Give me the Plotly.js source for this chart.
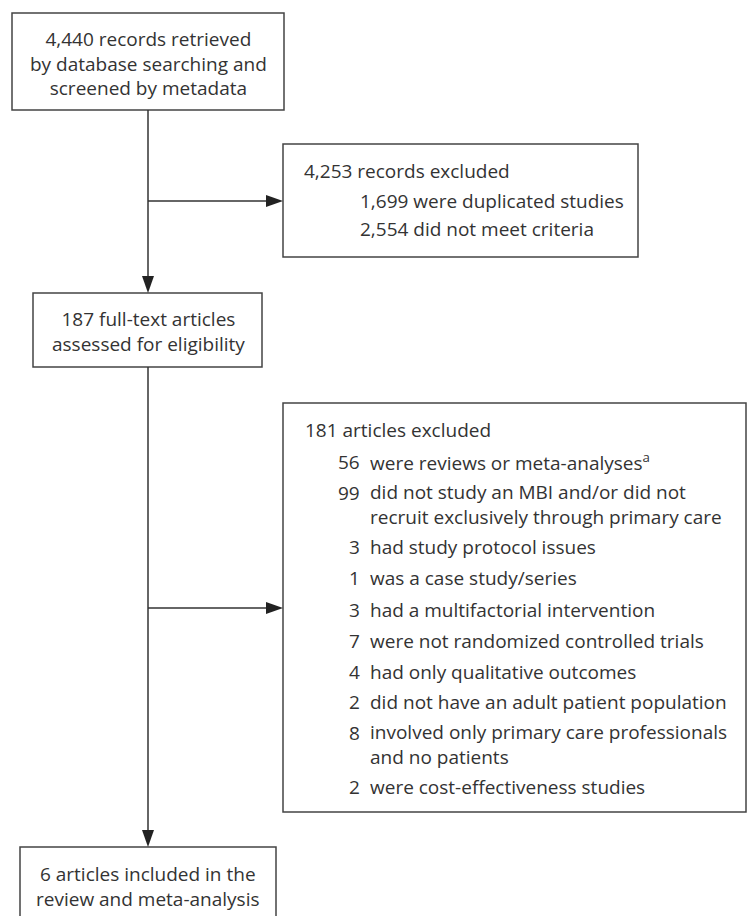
<!DOCTYPE html>
<html>
<head>
<meta charset="utf-8">
<script src="https://cdn.plot.ly/plotly-3.0.1.min.js"></script>
<style>html,body{margin:0;padding:0;background:#fff;}#chart{width:751px;height:916px;}</style>
</head>
<body>
<div id="chart"></div>
<script>
// ---- data (text and counts) ----
const retrievedLines = ["4,440 records retrieved", "by database searching and", "screened by metadata"];
const screenExcludedTotal = "4,253 records excluded";
const screenExcludedCounts = ["1,699", "2,554"];
const screenExcludedReasons = ["were duplicated studies", "did not meet criteria"];
const fullTextLines = ["187 full-text articles", "assessed for eligibility"];
const fullTextExcludedTotal = "181 articles excluded";
const fullTextExcludedCounts = ["56", "99", "3", "1", "3", "7", "4", "2", "8", "2"];
const fullTextExcludedReasons = [
  ["were reviews or meta-analyses<sup>a</sup>"],
  ["did not study an MBI and/or did not", "recruit exclusively through primary care"],
  ["had study protocol issues"],
  ["was a case study/series"],
  ["had a multifactorial intervention"],
  ["were not randomized controlled trials"],
  ["had only qualitative outcomes"],
  ["did not have an adult patient population"],
  ["involved only primary care professionals", "and no patients"],
  ["were cost-effectiveness studies"]
];
const includedLines = ["6 articles included in the", "review and meta-analysis"];

// ---- layout geometry ----
const W = 751, H = 916;
const FONT = {family: "Open Sans, Noto Sans, sans-serif", size: 19, color: "#333333"};
const LINE = {color: "#333333", width: 1.5};
const BOX = {color: "#444444", width: 1.5};
const mainX = 148;
const boxes = {
  b1: [12, 284, 13, 110],
  b2: [283, 638, 144, 257],
  b3: [33, 262, 293, 367],
  b4: [283, 746, 403, 812],
  b5: [20, 276, 847, 935]
};
const branch1Y = 201, branch2Y = 608;
const lineGap = 23;

const shapes = [];
const annotations = [];

function box(b) {
  shapes.push({type: "rect", xref: "x", yref: "y", x0: b[0], x1: b[1], y0: b[2], y1: b[3],
    line: BOX, fillcolor: "rgba(0,0,0,0)"});
}
function seg(x0, y0, x1, y1) {
  shapes.push({type: "line", xref: "x", yref: "y", x0, y0, x1, y1, line: LINE});
}
function headRight(x, y) {
  shapes.push({type: "path", xref: "x", yref: "y",
    path: `M ${x} ${y} L ${x - 17} ${y - 6} L ${x - 17} ${y + 6} Z`,
    fillcolor: "#222", line: {width: 0}});
}
function headDown(x, y) {
  shapes.push({type: "path", xref: "x", yref: "y",
    path: `M ${x} ${y} L ${x - 6} ${y - 17} L ${x + 6} ${y - 17} Z`,
    fillcolor: "#222", line: {width: 0}});
}
// multi-line block: firstY is the centre of the first line
function block(lines, x, firstY, anchor) {
  const cy = firstY + (lines.length - 1) * lineGap / 2;
  annotations.push({text: lines.join("<br>"), x, y: cy, xref: "x", yref: "y",
    xanchor: anchor || "center", yanchor: "middle", showarrow: false,
    font: FONT, align: anchor || "center"});
}

Object.values(boxes).forEach(box);

// connectors
seg(mainX, boxes.b1[3], mainX, boxes.b3[2] - 10);
seg(mainX, branch1Y, boxes.b2[0] - 10, branch1Y);
headRight(boxes.b2[0], branch1Y);
headDown(mainX, boxes.b3[2]);
seg(mainX, boxes.b3[3], mainX, boxes.b5[2] - 10);
seg(mainX, branch2Y, boxes.b4[0] - 10, branch2Y);
headRight(boxes.b4[0], branch2Y);
headDown(mainX, boxes.b5[2]);

// box 1
block(retrievedLines, mainX, 40);
// box 2
block([screenExcludedTotal], 302, 171, "left");
const b2Y = [201, 229];
screenExcludedCounts.forEach((c, i) => {
  block([c + " " + screenExcludedReasons[i]], 358, b2Y[i], "left");
});
// box 3
block(fullTextLines, mainX, 320);
// box 4
block([fullTextExcludedTotal], 303, 430, "left");
const b4Y = [462, 493, 547, 578, 610, 641, 672, 702, 733, 787];
fullTextExcludedCounts.forEach((c, i) => {
  block([c], 362, b4Y[i], "right");
  block(fullTextExcludedReasons[i], 368, b4Y[i], "left");
});
// box 5
block(includedLines, mainX, 875);

const layout = {
  width: W, height: H,
  margin: {l: 0, r: 0, t: 0, b: 0, pad: 0},
  paper_bgcolor: "#ffffff", plot_bgcolor: "#ffffff",
  showlegend: false,
  xaxis: {range: [0, W], visible: false, fixedrange: true},
  yaxis: {range: [H, 0], visible: false, fixedrange: true},
  shapes, annotations
};
Plotly.newPlot("chart", [], layout, {staticPlot: true, displayModeBar: false});
</script>
</body>
</html>
